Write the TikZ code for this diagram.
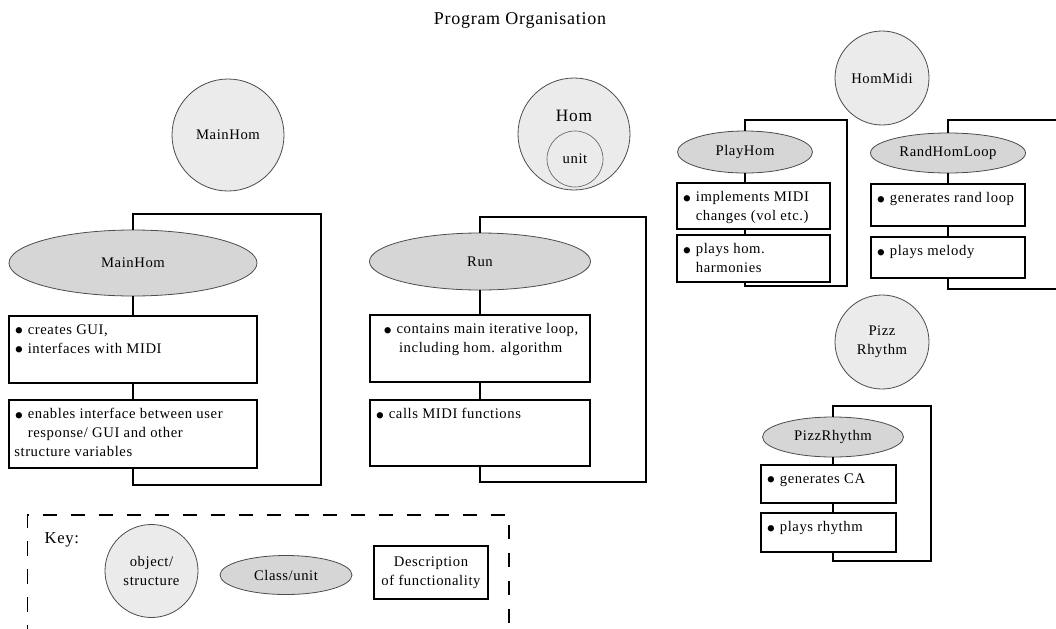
\documentclass[tikz,border=0pt]{standalone}
\usepackage{fontspec}
\setmainfont{Liberation Serif}[LetterSpace=4]
\usetikzlibrary{shapes.geometric}
\newdimen\pxu \pxu=0.75pt
\newcommand{\dtxt}[3]{\parbox[c][\dimexpr#2\pxu-13pt\relax][t]{\dimexpr#1\pxu-8pt\relax}{\raggedright #3}}
\newcommand{\bul}{\smash{\raisebox{-4pt}{\scalebox{1.8}{\textbullet}}}\ }
\newcommand{\hang}{\phantom{\bul}}
\tikzset{
  obj/.style={circle,draw=black!70,fill=black!8,line width=0.6pt,inner sep=0pt,
    minimum size=#1*1.5pt,align=center},
  cls/.style 2 args={ellipse,draw=black!70,fill=black!16,line width=0.6pt,inner sep=0pt,
    minimum width=#1*0.75pt,minimum height=#2*0.75pt},
  dsc/.style={draw,line width=0.8pt,inner xsep=4pt,inner ysep=6.5pt},
  lnk/.style={line width=0.8pt},
  frm/.style={line width=0.8pt},
  keyfrm/.style={line width=0.8pt,dash pattern=on 11pt off 10pt},
}
\begin{document}
\begin{tikzpicture}[x=0.75pt,y=-0.75pt,font=\fontsize{11}{14.25}\selectfont]
  \useasboundingbox (0,0) rectangle (1056,628);
  \node[font=\fontsize{13.5}{16}\selectfont] (ttl) at (520,20) {Program Organisation};

  % MainHom
  \node[obj=56] (mho) at (228,135) {MainHom};
  \node[cls={248}{66}] (mhc) at (133,263) {MainHom};
  \node[dsc] (mhd1) at (133,349.5) {\dtxt{248}{67}{\bul creates GUI,\\
    \bul interfaces with MIDI}};
  \node[dsc] (mhd2) at (133,434) {\dtxt{248}{68}{\bul enables interface between user\\
    \hang response/ GUI and other\\ structure variables}};
  \coordinate (mhT) at (321,214); \coordinate (mhB) at (321,485);

  % Hom / Run
  \node[obj=56] (hom) at (574,134) {};
  \node[font=\fontsize{13}{15}\selectfont] (homt) at (574,116) {Hom};
  \node[obj=28,draw=black!60,line width=0.5pt] (unit) at (575,159) {unit};
  \node[cls={221}{57}] (runc) at (480,261.5) {Run};
  \node[dsc] (rund1) at (480,348.5) {\dtxt{220}{67}{\hspace*{5.8pt}\bul contains main iterative loop,\\
    \hspace*{17.8pt}including hom. algorithm}};
  \node[dsc] (rund2) at (480,433) {\dtxt{220}{66}{\bul calls MIDI functions}};
  \coordinate (runT) at (646,217); \coordinate (runB) at (646,482);

  % HomMidi
  \node[obj=47] (hmo) at (882,78) {HomMidi};
  \node[cls={135}{42}] (phc) at (745,152) {PlayHom};
  \node[dsc] (phd1) at (753.5,206) {\dtxt{153}{46}{\bul implements MIDI\\ \hang changes (vol etc.)}};
  \node[dsc] (phd2) at (753.5,258.5) {\dtxt{153}{47}{\bul plays hom.\\ \hang harmonies}};
  \coordinate (phT) at (847,120); \coordinate (phB) at (847,286);
  \node[cls={155}{40}] (rhc) at (948,153) {RandHomLoop};
  \node[dsc] (rhd1) at (948,205) {\dtxt{154}{42}{\bul generates rand loop}};
  \node[dsc] (rhd2) at (948,257.5) {\dtxt{154}{41}{\bul plays melody}};
  \coordinate (rhT) at (1060,120); \coordinate (rhB) at (1060,289);

  % PizzRhythm
  \node[obj=47] (pzo) at (882,342) {Pizz\\Rhythm};
  \node[cls={141}{40}] (pzc) at (833,437) {PizzRhythm};
  \node[dsc] (pzd1) at (828.5,484) {\dtxt{135}{38}{\bul generates CA}};
  \node[dsc] (pzd2) at (828.5,532.5) {\dtxt{135}{39}{\bul plays rhythm}};
  \coordinate (pzT) at (931,406); \coordinate (pzB) at (931,561);

  \foreach \c/\a/\b in {mhc/mhd1/mhd2,runc/rund1/rund2,phc/phd1/phd2,rhc/rhd1/rhd2,pzc/pzd1/pzd2}{
    \draw[lnk] (\c.south) -- (\c.south |- \a.north);
    \draw[lnk] (\c.south |- \a.south) -- (\c.south |- \b.north);
  }
  \foreach \c/\b/\t/\u in {mhc/mhd2/mhT/mhB,runc/rund2/runT/runB,phc/phd2/phT/phB,
      rhc/rhd2/rhT/rhB,pzc/pzd2/pzT/pzB}
    \draw[frm] (\c.north) |- (\t) -- (\u) -| (\c.south |- \b.south);

  % key
  \draw[keyfrm] (27.5,640) |- (509,515) -- (509,640);
  \node[anchor=west,font=\fontsize{12.5}{15}\selectfont] (keyl) at (40,540) {Key:};
  \node[obj=46.5] (ko) at (151.5,571) {object/\\structure};
  \node[cls={132}{39}] (kc) at (286,575) {Class/unit};
  \node[draw,line width=0.8pt,align=center,minimum width=114*0.75pt,minimum height=53*0.75pt]
    (kd) at (431,572.5) {Description\\of functionality};
\end{tikzpicture}
\end{document}
